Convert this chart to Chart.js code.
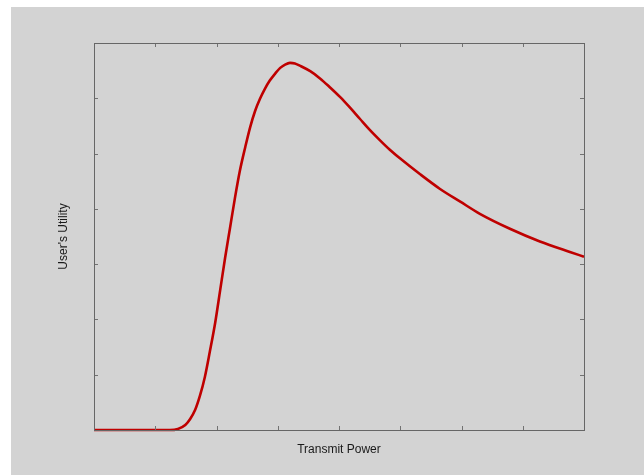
<!DOCTYPE html>
<html>
<head>
<meta charset="utf-8">
<script src="https://cdn.jsdelivr.net/npm/chart.js@4.4.1/dist/chart.umd.min.js"></script>
<style>
  html, body { margin: 0; padding: 0; background: #fff; }
  #frame { position: absolute; left: 11px; top: 7px; width: 633px; height: 468px; background: #d3d3d3; }
  canvas { display: block; }
</style>
</head>
<body>
<div id="frame"><canvas id="utility" width="633" height="468"></canvas></div>
<script>
// values (x: 0..8 grid units, y: 0..7 grid units)
var power = [0, 1.24, 1.37, 1.49, 1.57, 1.65, 1.73, 1.81, 1.89, 1.98, 2.06, 2.14, 2.22,
  2.30, 2.38, 2.47, 2.55, 2.63, 2.71, 2.79, 2.87, 2.96, 3.04, 3.12, 3.20, 3.28, 3.36, 3.53,
  3.69, 3.85, 4.02, 4.18, 4.34, 4.51, 4.67, 4.83, 5.00, 5.32, 5.65, 5.98, 6.30, 6.79, 7.28, 7.77, 8.0];
var utility = [0, 0, 0.02, 0.09, 0.20, 0.36, 0.62, 0.96, 1.41, 1.95, 2.53, 3.11, 3.65,
  4.19, 4.68, 5.12, 5.48, 5.77, 5.99, 6.17, 6.32, 6.45, 6.55, 6.61, 6.64, 6.63, 6.59, 6.49,
  6.36, 6.20, 6.02, 5.83, 5.63, 5.42, 5.24, 5.07, 4.91, 4.63, 4.36, 4.13, 3.91, 3.64, 3.41, 3.22, 3.135];
var xTicks = [0, 1, 2, 3, 4, 5, 6, 7, 8];
var yTicks = [0, 1, 2, 3, 4, 5, 6, 7];

var points = power.map(function (p, i) { return { x: p, y: utility[i] }; });

// box around the plot with short ticks pointing inward on all four sides
var innerTicks = {
  id: 'innerTicks',
  afterDraw: function (chart) {
    var ctx = chart.ctx, a = chart.chartArea;
    var xs = chart.scales.x, ys = chart.scales.y;
    var len = 4;
    ctx.save();
    ctx.strokeStyle = '#727272';
    ctx.lineWidth = 1;
    xTicks.forEach(function (t) {
      var px = Math.round(xs.getPixelForValue(t)) + 0.5;
      ctx.beginPath();
      ctx.moveTo(px, a.bottom); ctx.lineTo(px, a.bottom - len);
      ctx.moveTo(px, a.top); ctx.lineTo(px, a.top + len);
      ctx.stroke();
    });
    yTicks.forEach(function (t) {
      var py = Math.round(ys.getPixelForValue(t)) + 0.5;
      ctx.beginPath();
      ctx.moveTo(a.left, py); ctx.lineTo(a.left + len, py);
      ctx.moveTo(a.right, py); ctx.lineTo(a.right - len, py);
      ctx.stroke();
    });
    ctx.strokeStyle = '#666';
    ctx.strokeRect(Math.round(a.left) + 0.5, Math.round(a.top) + 0.5,
      Math.round(a.right - a.left), Math.round(a.bottom - a.top));
    ctx.restore();
  }
};

var chart = new Chart(document.getElementById('utility'), {
  type: 'line',
  data: {
    datasets: [{
      data: points,
      borderColor: '#bf0000',
      borderWidth: 2.6,
      pointRadius: 0,
      cubicInterpolationMode: 'monotone',
      fill: false,
      clip: 4
    }]
  },
  options: {
    responsive: false,
    animation: false,
    layout: { padding: { left: 0, top: 36, right: 60, bottom: 0 } },
    plugins: { legend: { display: false }, tooltip: { enabled: false } },
    scales: {
      x: {
        type: 'linear', min: 0, max: 8,
        ticks: { display: false, stepSize: 1 },
        grid: { display: false },
        border: { display: false },
        title: {
          display: true, text: 'Transmit Power', color: '#1a1a1a',
          font: { family: 'Liberation Sans', size: 12 },
          padding: { top: 0, bottom: 18 }
        },
        afterFit: function (s) { s.height = 45; }
      },
      y: {
        min: 0, max: 7,
        ticks: { display: false, stepSize: 1 },
        grid: { display: false },
        border: { display: false },
        title: {
          display: true, text: "User's Utility", color: '#1a1a1a',
          font: { family: 'Liberation Sans', size: 12 },
          padding: { top: 45, bottom: 0 }
        },
        afterFit: function (s) { s.width = 83; }
      }
    }
  },
  plugins: [innerTicks]
});
</script>
</body>
</html>
